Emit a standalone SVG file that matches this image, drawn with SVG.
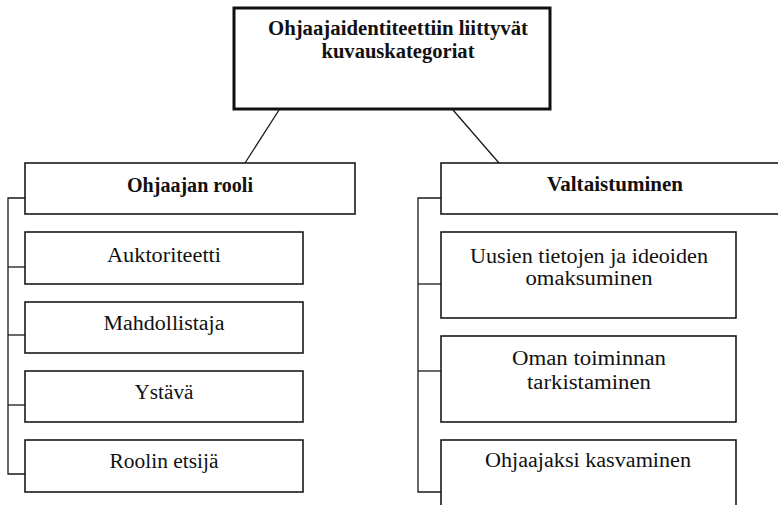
<svg xmlns="http://www.w3.org/2000/svg" width="778" height="505" viewBox="0 0 778 505">
  <style>
    .box { fill: #ffffff; stroke: #1a1a1a; stroke-width: 1.6; }
    .main { fill: #ffffff; stroke: #111111; stroke-width: 3; }
    .link { fill: none; stroke: #1a1a1a; stroke-width: 1.3; }
    text { font-family: "Liberation Serif", "Times New Roman", serif; font-size: 20.5px; fill: #111111; text-anchor: middle; }
    .b { font-weight: bold; }
  </style>

  <!-- connectors -->
  <g id="connectors">
    <line class="link" x1="279" y1="110" x2="245" y2="163"/>
    <line class="link" x1="453" y1="110" x2="499" y2="163"/>
    <polyline class="link" points="25,198 8,198 8,474 25,474"/>
    <line class="link" x1="8" y1="267" x2="25" y2="267"/>
    <line class="link" x1="8" y1="335" x2="25" y2="335"/>
    <line class="link" x1="8" y1="405" x2="25" y2="405"/>
    <polyline class="link" points="441,198 418,198 418,492 441,492"/>
    <line class="link" x1="418" y1="284" x2="441" y2="284"/>
    <line class="link" x1="418" y1="371" x2="441" y2="371"/>
  </g>

  <g id="root">
    <rect class="main" x="234" y="8" width="316" height="101"/>
    <text class="b" x="398" y="35" textLength="260" lengthAdjust="spacingAndGlyphs">Ohjaajaidentiteettiin liittyvät</text>
    <text class="b" x="398" y="58" textLength="153" lengthAdjust="spacingAndGlyphs">kuvauskategoriat</text>
  </g>

  <g id="ohjaajan-rooli">
    <rect class="box" x="25" y="163" width="330" height="51"/>
    <text class="b" x="190" y="192" textLength="126" lengthAdjust="spacingAndGlyphs">Ohjaajan rooli</text>
  </g>
  <g id="auktoriteetti">
    <rect class="box" x="25" y="232" width="278" height="52"/>
    <text x="164" y="262" textLength="114" lengthAdjust="spacingAndGlyphs">Auktoriteetti</text>
  </g>
  <g id="mahdollistaja">
    <rect class="box" x="25" y="302" width="278" height="51"/>
    <text x="164" y="330" textLength="121" lengthAdjust="spacingAndGlyphs">Mahdollistaja</text>
  </g>
  <g id="ystava">
    <rect class="box" x="25" y="371" width="278" height="51"/>
    <text x="164" y="399" textLength="59" lengthAdjust="spacingAndGlyphs">Ystävä</text>
  </g>
  <g id="roolin-etsija">
    <rect class="box" x="25" y="440" width="278" height="52"/>
    <text x="164" y="468" textLength="109" lengthAdjust="spacingAndGlyphs">Roolin etsijä</text>
  </g>

  <g id="valtaistuminen">
    <rect class="box" x="441" y="163" width="350" height="51"/>
    <text class="b" x="615" y="191" textLength="136" lengthAdjust="spacingAndGlyphs">Valtaistuminen</text>
  </g>
  <g id="uusien-tietojen">
    <rect class="box" x="441" y="232" width="295" height="86"/>
    <text x="589" y="263" textLength="238" lengthAdjust="spacingAndGlyphs">Uusien tietojen ja ideoiden</text>
    <text x="589" y="285" textLength="127" lengthAdjust="spacingAndGlyphs">omaksuminen</text>
  </g>
  <g id="oman-toiminnan">
    <rect class="box" x="441" y="336" width="295" height="86"/>
    <text x="589" y="365" textLength="154" lengthAdjust="spacingAndGlyphs">Oman toiminnan</text>
    <text x="589" y="389" textLength="124" lengthAdjust="spacingAndGlyphs">tarkistaminen</text>
  </g>
  <g id="ohjaajaksi-kasvaminen">
    <rect class="box" x="441" y="440" width="295" height="80"/>
    <text x="588" y="467" textLength="206" lengthAdjust="spacingAndGlyphs">Ohjaajaksi kasvaminen</text>
  </g>
</svg>
